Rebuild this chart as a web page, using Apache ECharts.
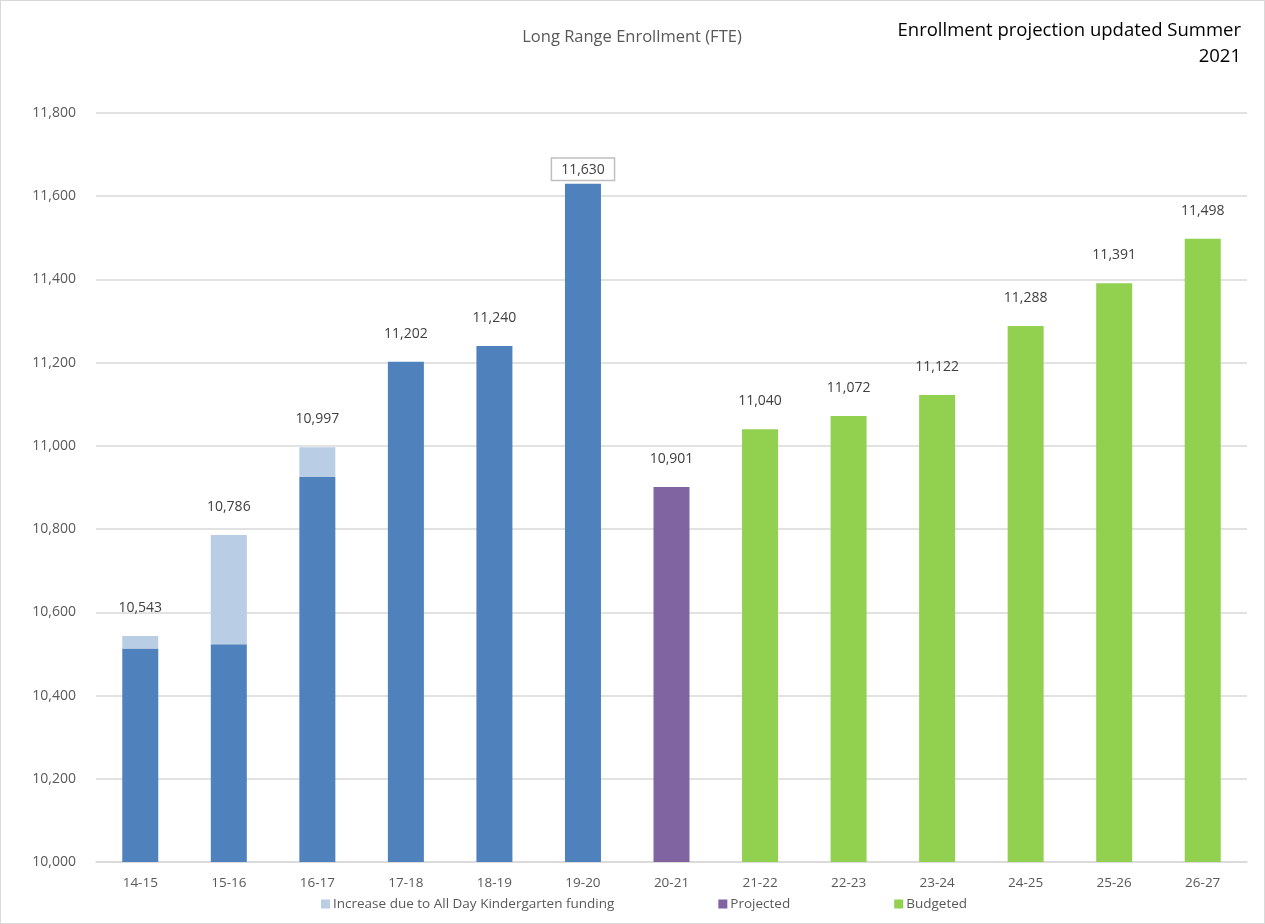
<!DOCTYPE html>
<html>
<head>
<meta charset="utf-8">
<title>Long Range Enrollment (FTE)</title>
<script src="https://cdn.jsdelivr.net/npm/echarts@6/dist/echarts.min.js"></script>
<style>
  html, body { margin: 0; padding: 0; background: #fff; }
  #chart { position: absolute; left: 0; top: 0; width: 1263px; height: 922px; border: 1px solid #d9d9d9; }
</style>
</head>
<body>
<div id="chart"></div>
<script>
// School years on the category axis
const categories = ['14-15', '15-16', '16-17', '17-18', '18-19', '19-20', '20-21',
                    '21-22', '22-23', '23-24', '24-25', '25-26', '26-27'];
// Actual enrollment (FTE) excluding the kindergarten increase
const baseFTE = [10513, 10523, 10925, 11202, 11240, 11630, null, null, null, null, null, null, null];
// Additional FTE from All Day Kindergarten funding
const kindergartenIncrease = [30, 263, 72, null, null, null, null, null, null, null, null, null, null];
// Projected year
const projectedFTE = [null, null, null, null, null, null, 10901, null, null, null, null, null, null];
// Budgeted years
const budgetedFTE = [null, null, null, null, null, null, null, 11040, 11072, 11122, 11288, 11391, 11498];
// Y axis ticks
const yMin = 10000, yMax = 11800, yStep = 200;

const FONT = '"Open Sans", "Noto Sans", sans-serif';
const labelBase = { show: true, position: 'top', distance: 21, color: '#404040', fontSize: 14, fontFamily: FONT,
  formatter: p => {
    const i = p.dataIndex;
    const total = (baseFTE[i] || 0) + (kindergartenIncrease[i] || 0) + (projectedFTE[i] || 0) + (budgetedFTE[i] || 0);
    return total.toLocaleString('en-US');
  } };

// Label goes on whichever segment is on top of each column
function withLabels(values, isTop, extra) {
  return values.map((v, i) => {
    if (v == null) return null;
    if (!isTop(i)) return v;
    const lbl = Object.assign({}, labelBase, extra ? extra(i) : {});
    return { value: v, label: lbl };
  });
}

const boxedLabel = i => i === 5 ? {
  backgroundColor: '#fff', borderColor: '#bfbfbf', borderWidth: 1.5,
  padding: [4, 9, 3, 9], distance: 4
} : {};

const noteStyle = { fontSize: 18.5, fontWeight: 'normal', color: '#000', fontFamily: FONT };

const chart = echarts.init(document.getElementById('chart'), null, { renderer: 'canvas' });
chart.setOption({
  animation: false,
  backgroundColor: '#fff',
  textStyle: { fontFamily: FONT },
  title: [
    { text: 'Long Range Enrollment (FTE)', left: 626, top: 23, textAlign: 'center',
      textStyle: { fontSize: 16.5, fontWeight: 'normal', color: '#595959', fontFamily: FONT } },
    { text: 'Enrollment projection updated Summer', right: 23, top: 20, padding: 0, textStyle: noteStyle },
    { text: '2021', right: 23, top: 46, padding: 0, textStyle: noteStyle }
  ],
  legend: {
    left: 315, top: 891, itemWidth: 9, itemHeight: 9, itemGap: 104, icon: 'rect',
    textStyle: { fontSize: 13.5, color: '#595959', fontFamily: FONT, padding: [0, 0, 0, -2] },
    data: ['Increase due to All Day Kindergarten funding', 'Projected', 'Budgeted']
  },
  grid: { left: 95, right: 17, top: 112, bottom: 61, containLabel: false },
  xAxis: {
    type: 'category', data: categories,
    axisLine: { show: true, lineStyle: { color: '#d9d9d9', width: 1.5 } },
    axisTick: { show: false },
    axisLabel: { color: '#595959', fontSize: 13.5, margin: 14, fontFamily: FONT }
  },
  yAxis: {
    type: 'value', min: yMin, max: yMax, interval: yStep,
    axisLine: { show: false }, axisTick: { show: false },
    splitLine: { lineStyle: { color: '#d9d9d9', width: 1.5 } },
    axisLabel: { color: '#595959', fontSize: 14, margin: 20, fontFamily: FONT,
      formatter: v => v.toLocaleString('en-US') }
  },
  series: [
    { name: 'Enrollment', type: 'bar', stack: 'fte', barWidth: 36,
      itemStyle: { color: '#4f81bd' },
      data: withLabels(baseFTE, i => kindergartenIncrease[i] == null, boxedLabel) },
    { name: 'Increase due to All Day Kindergarten funding', type: 'bar', stack: 'fte', barWidth: 36,
      itemStyle: { color: '#b9cde5' },
      data: withLabels(kindergartenIncrease, () => true) },
    { name: 'Projected', type: 'bar', stack: 'fte', barWidth: 36,
      itemStyle: { color: '#8064a2' },
      data: withLabels(projectedFTE, () => true) },
    { name: 'Budgeted', type: 'bar', stack: 'fte', barWidth: 36,
      itemStyle: { color: '#92d050' },
      data: withLabels(budgetedFTE, () => true) }
  ]
});
</script>
</body>
</html>
